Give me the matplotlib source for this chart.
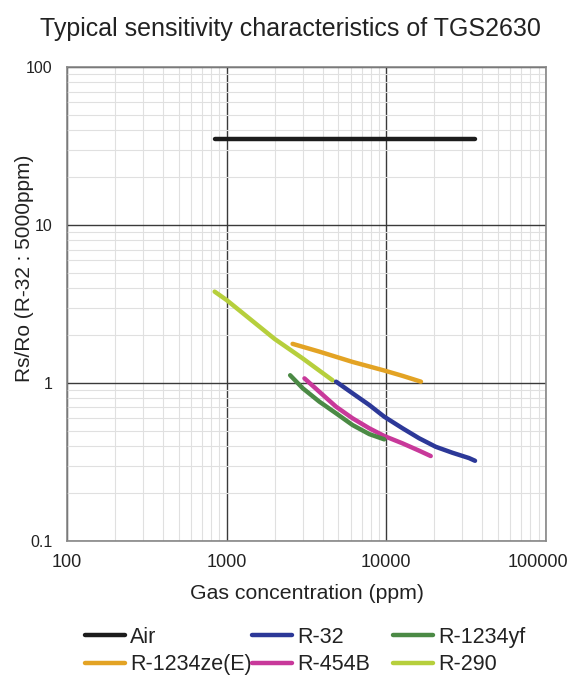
import matplotlib
matplotlib.use("Agg")
import matplotlib.pyplot as plt
from matplotlib.ticker import FixedLocator, FixedFormatter, LogLocator, NullFormatter

plt.rcParams['font.family'] = ['Liberation Sans', 'DejaVu Sans']

# Data
air_x = [841, 36000]
air_y = [35, 35]

r32_x = [4850, 6150, 7830, 9716, 12650, 16070, 20400, 25960, 33000, 36000]
r32_y = [1.02, 0.861, 0.726, 0.612, 0.517, 0.447, 0.395, 0.362, 0.335, 0.322]

r1234yf_x = [2500, 3000, 3811, 4850, 6150, 7830, 9716]
r1234yf_y = [1.12, 0.926, 0.762, 0.643, 0.542, 0.475, 0.44]

r1234ze_x = [2590, 3811, 6150, 9716, 12650, 16500]
r1234ze_y = [1.77, 1.58, 1.36, 1.20, 1.11, 1.02]

r454b_x = [3073, 3811, 4850, 6150, 7830, 9716, 12650, 16070, 19000]
r454b_y = [1.07, 0.88, 0.708, 0.598, 0.517, 0.462, 0.415, 0.373, 0.345]

r290_x = [841, 1000, 2000, 3000, 4613]
r290_y = [3.79, 3.35, 1.9, 1.43, 1.04]

x_ticks = [100, 1000, 10000, 100000]
x_labels = ["100", "1000", "10000", "100000"]
y_ticks = [0.1, 1, 10, 100]
y_labels = ["0.1", "1", "10", "100"]

names = ["Air", "R-32", "R-1234yf", "R-1234ze(E)", "R-454B", "R-290"]
xs_all = [air_x, r32_x, r1234yf_x, r1234ze_x, r454b_x, r290_x]
ys_all = [air_y, r32_y, r1234yf_y, r1234ze_y, r454b_y, r290_y]
colors = ["#1c1c1c", "#2c3898", "#4b8a45", "#e3a324", "#c8399a", "#b6cf3c"]
draw_order = [0, 3, 5, 1, 4, 2]

fig = plt.figure(figsize=(5.68, 6.80), dpi=100)
ax = fig.add_axes([0.118, 0.2044, 0.843, 0.697])
ax.set_xscale('log')
ax.set_yscale('log')
ax.set_xlim(100, 100000)
ax.set_ylim(0.1, 100)

ax.xaxis.set_major_locator(FixedLocator(x_ticks))
ax.xaxis.set_major_formatter(FixedFormatter(x_labels[:-1] + [""]))
ax.yaxis.set_major_locator(FixedLocator(y_ticks))
ax.yaxis.set_major_formatter(FixedFormatter(y_labels))
ax.xaxis.set_minor_locator(LogLocator(base=10, subs=range(2, 10)))
ax.yaxis.set_minor_locator(LogLocator(base=10, subs=range(2, 10)))
ax.xaxis.set_minor_formatter(NullFormatter())
ax.yaxis.set_minor_formatter(NullFormatter())

ax.grid(which='minor', color='#e0e0e0', linewidth=0.8)
ax.grid(which='major', color='#3a3a3a', linewidth=1.0)
ax.set_axisbelow(True)
ax.tick_params(which='both', length=0, colors='#222222')
ax.tick_params(axis='x', pad=9, labelsize=13)
ax.tick_params(axis='y', pad=10.5, labelsize=11.5)
for s in ax.spines.values():
    s.set_color('#888888')
    s.set_linewidth(1.2)

# last x tick label shifted left (as in the reference, so it stays inside)
ax.annotate(x_labels[-1], xy=(1, 0), xycoords='axes fraction',
            xytext=(-6, -9), textcoords='offset points',
            ha='center', va='top', fontsize=13, color='#222222')

handles = {}
for i in draw_order:
    ln, = ax.plot(xs_all[i], ys_all[i], color=colors[i], linewidth=3.2,
                  label=names[i], solid_capstyle='round')
    handles[i] = ln

fig.text(0.512, 1 - 36 / 680, "Typical sensitivity characteristics of TGS2630",
         ha='center', va='baseline', fontsize=18, color='#222222')
ax.set_xlabel("Gas concentration (ppm)", fontsize=15.3, color='#222222')
ax.xaxis.set_label_coords(0.502, -0.09)
ax.set_ylabel("Rs/Ro (R-32 : 5000ppm)", fontsize=15, color='#222222')
ax.yaxis.set_label_coords(-0.069, 0.576)

# legend: three columns (Air/R-1234ze(E), R-32/R-454B, R-1234yf/R-290)
col_items = [[0, 3], [1, 4], [2, 5]]
col_x = [85 / 568, 252 / 568, 393 / 568]
for items, cx in zip(col_items, col_x):
    lg = fig.legend([handles[i] for i in items], [names[i] for i in items],
                    loc='upper left', bbox_to_anchor=(cx, 0.078), frameon=False,
                    fontsize=15.5, handlelength=1.86, handletextpad=0.25,
                    labelspacing=0.3, borderpad=0, borderaxespad=0)
    for t in lg.get_texts():
        t.set_color('#222222')

fig.savefig("out.png", dpi=100)
